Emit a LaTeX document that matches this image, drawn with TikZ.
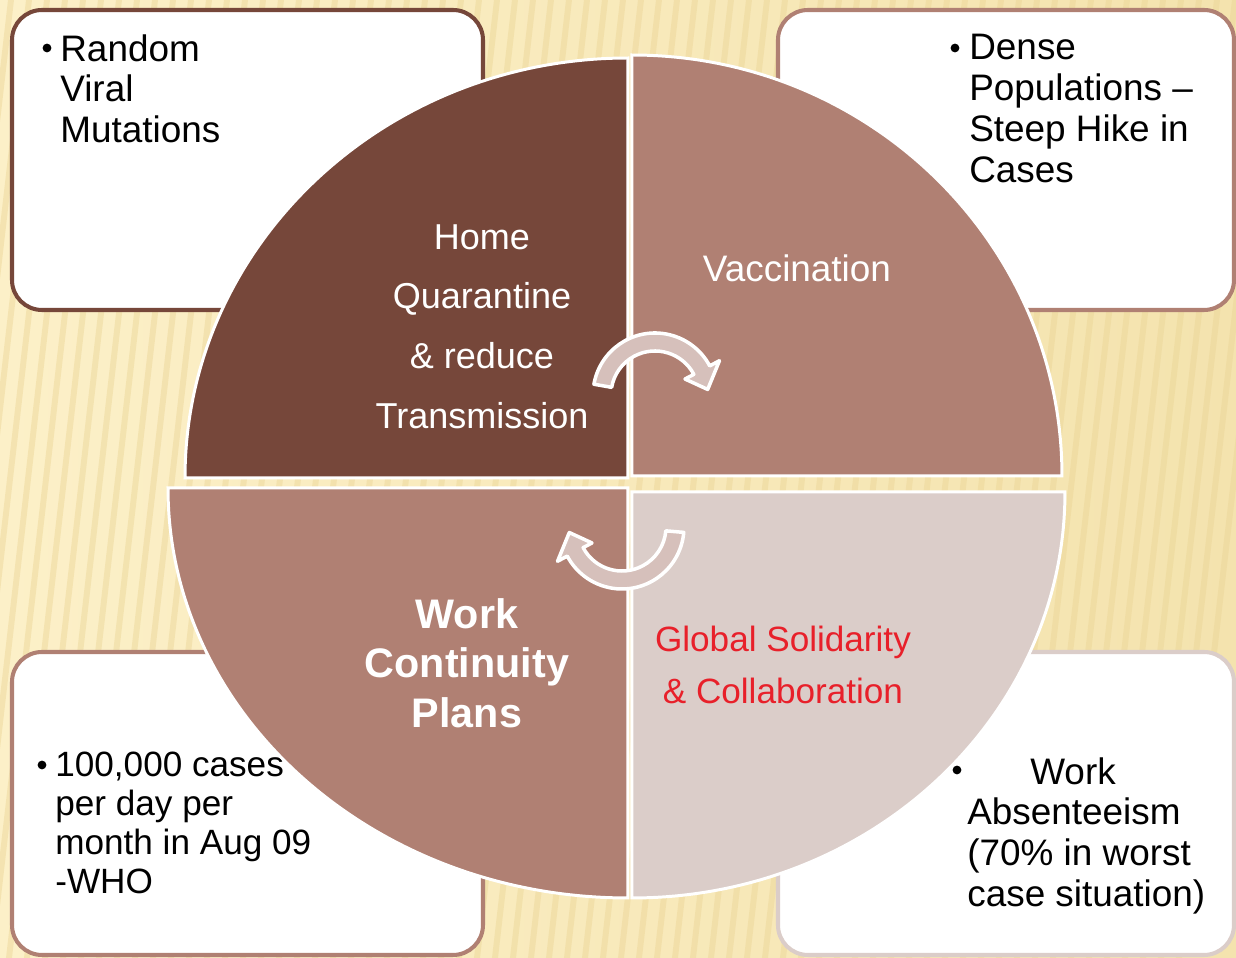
\documentclass[tikz,border=0pt]{standalone}
\usepackage{fontspec}
\setmainfont{Liberation Sans}
\definecolor{darkbrown}{HTML}{76473A}
\definecolor{midbrown}{HTML}{B08073}
\definecolor{palebrown}{HTML}{DBCDC9}
\definecolor{turnfill}{HTML}{D6C0BB}
\definecolor{bgleft}{HTML}{FCF0C8}
\definecolor{bgright}{HTML}{F4E3AE}
\definecolor{bgstreak}{HTML}{EBD596}
\definecolor{solidred}{HTML}{E8202A}
\begin{document}
\begin{tikzpicture}[x=0.02cm,y=0.02cm,
  riskbox/.style={fill=white,line width=2.3pt,rounded corners=0.6cm},
  quad/.style={draw=white,line width=1.7pt},
  boxtext/.style={inner sep=0pt,anchor=north west,align=left,
    font=\fontsize{21}{23.2}\selectfont},
  bulletdot/.style={circle,fill=black,inner sep=0pt,minimum size=5pt},
  quadtext/.style={text=white,align=center,inner sep=0pt},
  turn/.style={fill=turnfill,draw=white,line width=2pt,line join=round}]
  % background
  \shade[left color=bgleft,right color=bgright] (0,0) rectangle (1236,958);
  \begin{scope}
    \clip (0,0) rectangle (1236,958);
    \foreach \i in {0,...,72}
      \fill[bgstreak,opacity=.45] (\i*18-120,0) -- ++(6,0) -- ++(110,958) -- ++(-6,0) -- cycle;
  \end{scope}
  % the four boxes
  \draw[riskbox,draw=darkbrown] (12,648) rectangle (483,948);
  \draw[riskbox,draw=midbrown] (778,648) rectangle (1234,948);
  \draw[riskbox,draw=midbrown] (12,3) rectangle (483,306);
  \draw[riskbox,draw=palebrown] (778,3) rectangle (1234,306);
  \node[bulletdot] (b1) at (47,910) {};
  \node[boxtext] (t1) at (60,924) {Random\\Viral\\Mutations};
  \node[bulletdot] (b2) at (955,910) {};
  \node[boxtext] (t2) at (969,924) {Dense\\Populations --\\Steep Hike in\\Cases};
  \node[bulletdot] (b3) at (42,193) {};
  \node[boxtext,font=\fontsize{20}{22.1}\selectfont] (t3) at (55,206)
    {100,000 cases\\per day per\\month in Aug 09\\-WHO};
  \node[bulletdot] (b4) at (957,188) {};
  \node[boxtext] (t4) at (967,201)
    {\hspace*{1.26cm}Work\\Absenteeism\\(70\% in worst\\case situation)};
  % the circle
  \filldraw[quad,fill=darkbrown] (628,480) -- (185,480)
    arc[start angle=180,end angle=90,x radius=443,y radius=420] -- cycle;
  \filldraw[quad,fill=midbrown] (632,482) -- (632,903)
    arc[start angle=90,end angle=0,x radius=430,y radius=421] -- cycle;
  \filldraw[quad,fill=midbrown] (628,470) -- (628,60)
    arc[start angle=270,end angle=180,x radius=460,y radius=410] -- cycle;
  \filldraw[quad,fill=palebrown] (632,466) -- (1065,466)
    arc[start angle=0,end angle=-90,x radius=433,y radius=406] -- cycle;
  \node[quadtext,anchor=north,font=\fontsize{20.5}{34}\selectfont] (home) at (482,734)
    {Home\\Quarantine\\\& reduce\\Transmission};
  \node[quadtext,font=\fontsize{21}{25}\selectfont] (vacc) at (797,690) {Vaccination};
  \node[quadtext,anchor=north,font=\bfseries\fontsize{23.5}{28.3}\selectfont] (work) at (467,360)
    {Work\\Continuity\\Plans};
  \node[quadtext,anchor=north,text=solidred,font=\fontsize{20}{29.5}\selectfont] (global) at (783,332)
    {Global Solidarity\\\& Collaboration};
  % turning arrows
  \coordinate (c1) at (655,563);
  \coordinate (c2) at (622,431);
  \filldraw[turn] ([shift={(170:62)}]c1) arc[start angle=170,end angle=28,radius=62]
    -- ([shift={(28:73)}]c1) -- ([shift={(6:53)}]c1) -- ([shift={(28:34)}]c1)
    -- ([shift={(28:44)}]c1) arc[start angle=28,end angle=170,radius=44] -- cycle;
  \filldraw[turn] ([shift={(-5:62)}]c2) arc[start angle=-5,end angle=-152,radius=62]
    -- ([shift={(-152:73)}]c2) -- ([shift={(-174:53)}]c2) -- ([shift={(-152:34)}]c2)
    -- ([shift={(-152:44)}]c2) arc[start angle=-152,end angle=-5,radius=44] -- cycle;
\end{tikzpicture}
\end{document}
